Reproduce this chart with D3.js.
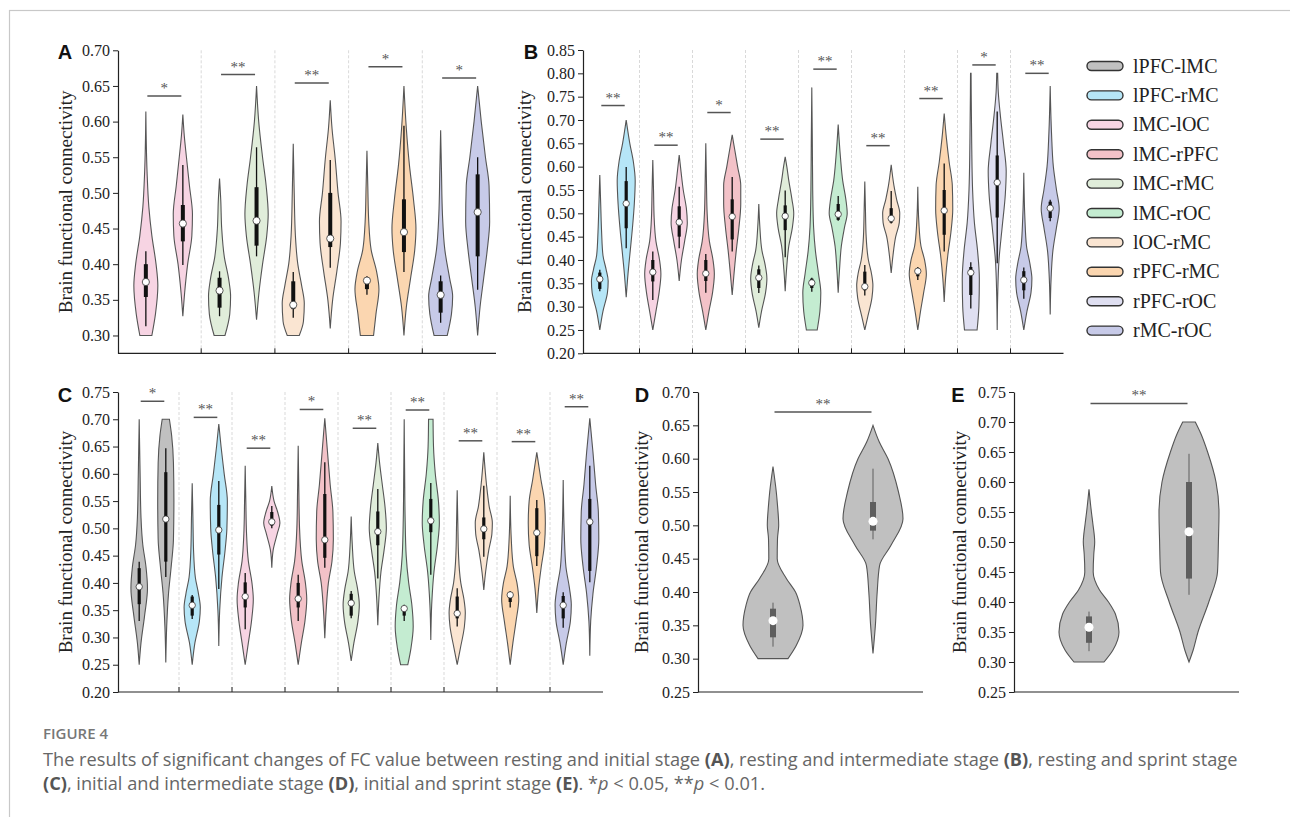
<!DOCTYPE html>
<html lang="en">
<head>
<meta charset="UTF-8">
<title>Figure 4</title>
<script src="https://cdn.jsdelivr.net/npm/d3@7"></script>
<style>
  body { margin: 0; background: #fff; }
</style>
</head>
<body>
<svg id="main" width="1290" height="817"></svg>
<script>
// ---------- data ----------
const connNames = ['lPFC-lMC','lPFC-rMC','lMC-lOC','lMC-rPFC','lMC-rMC',
                   'lMC-rOC','lOC-rMC','rPFC-rMC','rPFC-rOC','rMC-rOC'];
const connColors = ['#c0c0c0','#b6e6f7','#f7d4e3','#f3c2c8','#e0edda',
                    '#c4ecd1','#fae5d2','#fbd6b0','#dfdff1','#c7cae8'];

// stats per violin: [whisker low, q1, median, q3, whisker high], [rest, stage]
// shapes: [value, relative density]
const aGroups = ['lMC-lOC','lMC-rMC','lOC-rMC','rPFC-rMC','rMC-rOC'];
const aTicks = [0.30,0.35,0.40,0.45,0.50,0.55,0.60,0.65,0.70];
const aStats = [
  [[0.313,0.354,0.375,0.400,0.418],[0.399,0.432,0.457,0.483,0.539]],
  [[0.327,0.339,0.363,0.381,0.390],[0.411,0.426,0.461,0.508,0.564]],
  [[0.325,0.337,0.343,0.376,0.389],[0.395,0.424,0.436,0.500,0.546]],
  [[0.357,0.365,0.377,0.380,0.383],[0.389,0.417,0.445,0.491,0.594]],
  [[0.318,0.332,0.357,0.376,0.384],[0.364,0.411,0.473,0.526,0.550]]
];
const aShapes = [
  [[[0.30,0.5],[0.33,0.8],[0.37,1.0],[0.40,0.85],[0.44,0.5],[0.48,0.25],[0.53,0.1],[0.614,0]],
   [[0.327,0],[0.36,0.15],[0.40,0.4],[0.44,0.75],[0.47,0.8],[0.51,0.55],[0.55,0.3],[0.58,0.12],[0.61,0]]],
  [[[0.30,0.45],[0.33,0.85],[0.355,0.92],[0.38,0.75],[0.41,0.4],[0.45,0.18],[0.49,0.1],[0.52,0]],
   [[0.322,0],[0.36,0.2],[0.40,0.5],[0.44,0.85],[0.47,0.97],[0.51,0.8],[0.55,0.5],[0.60,0.18],[0.65,0]]],
  [[[0.30,0.5],[0.32,0.85],[0.345,0.92],[0.37,0.7],[0.40,0.38],[0.44,0.18],[0.50,0.08],[0.569,0]],
   [[0.31,0],[0.35,0.2],[0.39,0.55],[0.43,0.85],[0.46,0.9],[0.50,0.65],[0.55,0.4],[0.59,0.15],[0.63,0]]],
  [[[0.30,0.55],[0.33,0.75],[0.365,1.0],[0.39,0.8],[0.42,0.35],[0.46,0.15],[0.51,0.07],[0.559,0]],
   [[0.30,0],[0.34,0.2],[0.38,0.55],[0.42,0.9],[0.45,1.0],[0.49,0.8],[0.54,0.45],[0.59,0.2],[0.65,0]]],
  [[[0.30,0.55],[0.33,0.9],[0.355,1.0],[0.38,0.75],[0.42,0.35],[0.47,0.15],[0.53,0.07],[0.588,0]],
   [[0.30,0],[0.34,0.2],[0.38,0.5],[0.42,0.8],[0.46,1.0],[0.51,0.95],[0.55,0.65],[0.60,0.3],[0.65,0]]]
];
const aSig = [['*',0.636],['**',0.666],['**',0.654],['*',0.677],['*',0.661]];

const bGroups = ['lPFC-rMC','lMC-lOC','lMC-rPFC','lMC-rMC','lMC-rOC',
                 'lOC-rMC','rPFC-rMC','rPFC-rOC','rMC-rOC'];
const bTicks = [0.20,0.25,0.30,0.35,0.40,0.45,0.50,0.55,0.60,0.65,0.70,0.75,0.80,0.85];
const bStats = [
  [[0.333,0.338,0.359,0.373,0.379],[0.425,0.468,0.521,0.569,0.599]],
  [[0.314,0.354,0.374,0.400,0.418],[0.425,0.450,0.481,0.515,0.557]],
  [[0.330,0.355,0.371,0.400,0.413],[0.418,0.444,0.493,0.530,0.578]],
  [[0.329,0.340,0.362,0.380,0.388],[0.406,0.464,0.494,0.517,0.549]],
  [[0.332,0.340,0.351,0.360,0.362],[0.484,0.486,0.498,0.520,0.537]],
  [[0.324,0.335,0.343,0.375,0.389],[0.478,0.480,0.489,0.511,0.548]],
  [[0.357,0.365,0.376,0.380,0.385],[0.418,0.454,0.506,0.550,0.607]],
  [[0.296,0.325,0.373,0.385,0.395],[0.393,0.491,0.566,0.624,0.718]],
  [[0.317,0.335,0.357,0.376,0.384],[0.483,0.490,0.511,0.525,0.529]]
];
const bShapes = [
  [[[0.25,0],[0.29,0.35],[0.33,0.85],[0.355,0.93],[0.38,0.7],[0.41,0.35],[0.46,0.2],[0.52,0.1],[0.582,0]],
   [[0.32,0],[0.37,0.2],[0.42,0.45],[0.47,0.7],[0.52,0.9],[0.57,1.0],[0.61,0.8],[0.65,0.4],[0.70,0]]],
  [[[0.25,0],[0.29,0.35],[0.33,0.7],[0.37,0.9],[0.40,0.75],[0.44,0.35],[0.49,0.15],[0.55,0.08],[0.614,0]],
   [[0.355,0],[0.40,0.25],[0.44,0.6],[0.48,0.9],[0.51,0.8],[0.55,0.45],[0.59,0.2],[0.625,0]]],
  [[[0.25,0],[0.29,0.35],[0.33,0.75],[0.37,0.95],[0.40,0.8],[0.44,0.4],[0.50,0.15],[0.57,0.07],[0.65,0]],
   [[0.325,0],[0.37,0.2],[0.42,0.45],[0.47,0.75],[0.52,0.95],[0.56,0.95],[0.60,0.6],[0.64,0.25],[0.668,0]]],
  [[[0.255,0],[0.29,0.3],[0.33,0.75],[0.36,0.9],[0.39,0.7],[0.42,0.35],[0.47,0.12],[0.52,0]],
   [[0.333,0],[0.38,0.15],[0.43,0.4],[0.47,0.8],[0.50,0.95],[0.53,0.75],[0.57,0.4],[0.60,0.18],[0.621,0]]],
  [[[0.25,0.6],[0.29,0.9],[0.33,1.0],[0.37,0.75],[0.42,0.4],[0.47,0.2],[0.55,0.1],[0.65,0.06],[0.769,0]],
   [[0.33,0],[0.38,0.15],[0.43,0.35],[0.47,0.7],[0.50,1.0],[0.53,0.85],[0.57,0.5],[0.62,0.25],[0.69,0]]],
  [[[0.25,0],[0.28,0.35],[0.32,0.8],[0.345,0.9],[0.37,0.75],[0.40,0.4],[0.45,0.15],[0.51,0.07],[0.568,0]],
   [[0.372,0],[0.41,0.2],[0.45,0.5],[0.48,0.9],[0.50,0.95],[0.53,0.6],[0.56,0.3],[0.604,0]]],
  [[[0.25,0],[0.29,0.3],[0.33,0.65],[0.37,0.95],[0.40,0.75],[0.43,0.35],[0.48,0.12],[0.557,0]],
   [[0.31,0],[0.36,0.15],[0.41,0.4],[0.46,0.75],[0.51,0.95],[0.56,0.9],[0.61,0.55],[0.66,0.25],[0.714,0]]],
  [[[0.25,0.7],[0.30,0.9],[0.36,0.95],[0.42,0.75],[0.48,0.4],[0.55,0.2],[0.65,0.1],[0.80,0.03]],
   [[0.25,0],[0.32,0.05],[0.40,0.2],[0.47,0.55],[0.54,0.9],[0.59,1.0],[0.65,0.7],[0.71,0.35],[0.76,0.12],[0.80,0.05]]],
  [[[0.25,0],[0.29,0.35],[0.33,0.8],[0.36,0.9],[0.39,0.7],[0.43,0.3],[0.49,0.12],[0.587,0]],
   [[0.283,0],[0.36,0.1],[0.42,0.3],[0.47,0.7],[0.51,1.0],[0.55,0.7],[0.60,0.35],[0.67,0.15],[0.773,0]]]
];
const bSig = [['**',0.731],['**',0.646],['*',0.716],['**',0.659],['**',0.809],
              ['**',0.645],['**',0.746],['*',0.818],['**',0.800]];

const cGroups = ['lPFC-lMC','lPFC-rMC','lMC-lOC','lMC-rPFC','lMC-rMC',
                 'lMC-rOC','lOC-rMC','rPFC-rMC','rMC-rOC'];
const cTicks = [0.20,0.25,0.30,0.35,0.40,0.45,0.50,0.55,0.60,0.65,0.70,0.75];
const cStats = [
  [[0.330,0.361,0.393,0.427,0.439],[0.411,0.439,0.517,0.603,0.647]],
  [[0.334,0.340,0.359,0.375,0.378],[0.389,0.452,0.497,0.543,0.587]],
  [[0.315,0.355,0.375,0.401,0.418],[0.500,0.505,0.512,0.530,0.541]],
  [[0.330,0.355,0.371,0.400,0.415],[0.428,0.446,0.479,0.563,0.621]],
  [[0.335,0.340,0.363,0.380,0.385],[0.408,0.469,0.494,0.531,0.572]],
  [[0.330,0.340,0.353,0.355,0.360],[0.415,0.493,0.514,0.554,0.583]],
  [[0.320,0.335,0.344,0.375,0.390],[0.448,0.480,0.499,0.520,0.578]],
  [[0.355,0.365,0.378,0.380,0.385],[0.431,0.449,0.492,0.537,0.552]],
  [[0.318,0.335,0.359,0.376,0.383],[0.401,0.422,0.512,0.554,0.615]]
];
const cShapes = [
  [[[0.25,0],[0.29,0.2],[0.34,0.6],[0.39,0.92],[0.43,0.75],[0.47,0.4],[0.52,0.2],[0.60,0.1],[0.70,0]],
   [[0.254,0],[0.32,0.1],[0.38,0.3],[0.43,0.6],[0.48,0.85],[0.55,0.9],[0.62,0.85],[0.67,0.65],[0.70,0.4]]],
  [[[0.25,0],[0.29,0.3],[0.33,0.8],[0.355,0.9],[0.38,0.7],[0.41,0.35],[0.46,0.15],[0.52,0.08],[0.5825,0]],
   [[0.2845,0],[0.35,0.1],[0.41,0.35],[0.46,0.7],[0.50,0.9],[0.55,0.95],[0.60,0.6],[0.65,0.25],[0.6914,0]]],
  [[[0.25,0],[0.29,0.35],[0.33,0.7],[0.37,0.9],[0.40,0.75],[0.44,0.35],[0.49,0.15],[0.55,0.07],[0.615,0]],
   [[0.4277,0],[0.46,0.15],[0.49,0.6],[0.51,0.9],[0.53,0.65],[0.55,0.25],[0.5777,0]]],
  [[[0.25,0],[0.29,0.35],[0.33,0.75],[0.37,0.95],[0.40,0.8],[0.44,0.4],[0.50,0.15],[0.57,0.07],[0.6515,0]],
   [[0.2984,0],[0.35,0.15],[0.40,0.4],[0.44,0.8],[0.48,0.95],[0.53,0.9],[0.58,0.6],[0.64,0.3],[0.7016,0]]],
  [[[0.257,0],[0.29,0.3],[0.33,0.75],[0.36,0.9],[0.39,0.7],[0.42,0.35],[0.47,0.12],[0.5215,0]],
   [[0.3225,0],[0.37,0.12],[0.42,0.35],[0.46,0.7],[0.50,0.95],[0.54,0.8],[0.58,0.5],[0.62,0.2],[0.6563,0]]],
  [[[0.25,0.4],[0.28,0.75],[0.32,1.0],[0.36,0.85],[0.40,0.5],[0.45,0.22],[0.52,0.1],[0.60,0.05],[0.70,0]],
   [[0.2953,0],[0.36,0.1],[0.42,0.35],[0.47,0.75],[0.51,0.95],[0.55,0.85],[0.60,0.5],[0.65,0.3],[0.70,0.25]]],
  [[[0.25,0],[0.28,0.35],[0.32,0.8],[0.345,0.9],[0.37,0.75],[0.40,0.4],[0.45,0.15],[0.51,0.07],[0.5698,0]],
   [[0.3872,0],[0.42,0.2],[0.46,0.55],[0.49,0.9],[0.51,0.95],[0.54,0.6],[0.58,0.3],[0.6394,0]]],
  [[[0.25,0],[0.29,0.3],[0.33,0.65],[0.37,0.95],[0.40,0.75],[0.43,0.35],[0.48,0.12],[0.5596,0]],
   [[0.3449,0],[0.39,0.2],[0.43,0.5],[0.47,0.85],[0.51,0.95],[0.55,0.85],[0.59,0.45],[0.6394,0]]],
  [[[0.25,0],[0.29,0.35],[0.33,0.8],[0.36,0.9],[0.39,0.7],[0.43,0.3],[0.49,0.12],[0.5886,0]],
   [[0.2663,0],[0.33,0.1],[0.38,0.35],[0.43,0.75],[0.48,1.0],[0.53,0.95],[0.58,0.65],[0.64,0.35],[0.7016,0]]]
];
const cSig = [['*',0.733],['**',0.7035],['**',0.647],['*',0.718],['**',0.6835],
              ['**',0.717],['**',0.6605],['**',0.659],['**',0.723]];

const dGroups = ['initial-intermediate'];
const dTicks = [0.25,0.30,0.35,0.40,0.45,0.50,0.55,0.60,0.65,0.70];
const dStats = [[[0.318,0.332,0.357,0.375,0.384],[0.479,0.492,0.506,0.535,0.585]]];
const dShapes = [[
  [[0.30,0.5],[0.32,0.78],[0.35,1.0],[0.38,0.9],[0.40,0.75],[0.42,0.45],[0.45,0.14],[0.48,0.15],[0.50,0.19],[0.53,0.15],[0.55,0.11],[0.588,0]],
  [[0.308,0],[0.35,0.08],[0.40,0.14],[0.44,0.22],[0.47,0.6],[0.51,1.0],[0.55,0.85],[0.60,0.5],[0.625,0.21],[0.65,0]]
]];
const dSig = [['**',0.670]];

const eGroups = ['initial-sprint'];
const eTicks = [0.25,0.30,0.35,0.40,0.45,0.50,0.55,0.60,0.65,0.70,0.75];
const eStats = [[[0.318,0.332,0.358,0.376,0.384],[0.412,0.439,0.517,0.600,0.647]]];
const eShapes = [[
  [[0.30,0.5],[0.32,0.8],[0.35,1.0],[0.38,0.88],[0.40,0.65],[0.42,0.35],[0.45,0.14],[0.48,0.16],[0.50,0.19],[0.53,0.13],[0.55,0.08],[0.5878,0]],
  [[0.30,0],[0.32,0.14],[0.35,0.3],[0.40,0.66],[0.45,0.95],[0.50,0.98],[0.55,1.0],[0.60,0.9],[0.65,0.62],[0.68,0.4],[0.70,0.21]]
]];
const eSig = [['**',0.731]];

// ---------- drawing ----------
const SERIF = '"Liberation Serif", "Times New Roman", serif';
const svg = d3.select('svg#main');
const colorOf = d3.scaleOrdinal().domain(connNames).range(connColors);

// outer frame
svg.append('rect').attr('x', 9.5).attr('y', 10.5).attr('width', 1300).attr('height', 900)
  .attr('fill', 'none').attr('stroke', '#c8c8c8').attr('stroke-width', 1.2);

function drawPanel(p) {
  const g = svg.append('g').attr('font-family', SERIF);
  const y = d3.scaleLinear().domain(p.domain).range(p.yRange);
  const x = d3.scaleBand().domain(p.groups).range(p.band);
  const w = d3.scaleLinear().domain([0, 1]).range([0, p.maxHalf]);
  const yBot = p.yRange[0], yTop = p.yRange[1];

  // dashed separators + x ticks
  const bounds = p.groups.slice(1).map(gr => x(gr));
  g.selectAll('.sep').data(bounds).enter().append('line')
    .attr('x1', d => d).attr('x2', d => d).attr('y1', yTop).attr('y2', yBot)
    .attr('stroke', '#cfcfcf').attr('stroke-width', 0.8).attr('stroke-dasharray', '3,2');
  g.selectAll('.xt').data(bounds).enter().append('line')
    .attr('x1', d => d).attr('x2', d => d).attr('y1', yBot - 5).attr('y2', yBot)
    .attr('stroke', '#222').attr('stroke-width', 1);

  // violins
  const area = d3.area()
    .y(d => y(d[0]))
    .curve(d3.curveMonotoneY);
  p.groups.forEach((gr, gi) => {
    const cx0 = x(gr) + x.bandwidth() / 2;
    const fill = p.gray ? '#c0c0c0' : colorOf(gr);
    [0, 1].forEach(k => {
      const cx = cx0 + (k === 0 ? -p.offset : p.offset);
      const shape = p.shapes[gi][k];
      const st = p.stats[gi][k];
      g.append('path').datum(shape)
        .attr('d', area.x0(d => cx - w(d[1])).x1(d => cx + w(d[1])))
        .attr('fill', fill).attr('stroke', '#555').attr('stroke-width', 1.1);
      const boxCol = p.gray ? '#5e5e5e' : '#111';
      g.append('line').attr('x1', cx).attr('x2', cx)
        .attr('y1', y(st[0])).attr('y2', y(st[4]))
        .attr('stroke', boxCol).attr('stroke-width', p.gray ? 1 : 1.3);
      g.append('line').attr('x1', cx).attr('x2', cx)
        .attr('y1', y(st[1])).attr('y2', y(st[3]))
        .attr('stroke', boxCol).attr('stroke-width', p.boxW);
      g.append('circle').attr('cx', cx).attr('cy', y(st[2])).attr('r', p.medR)
        .attr('fill', '#fff').attr('stroke', p.gray ? 'none' : '#333').attr('stroke-width', 0.8);
    });
    // significance
    const s = p.sig[gi];
    g.append('line').attr('x1', cx0 - p.offset + 1.5).attr('x2', cx0 + p.offset - 1.5)
      .attr('y1', y(s[1])).attr('y2', y(s[1]))
      .attr('stroke', '#555').attr('stroke-width', 1.5);
    g.append('text').attr('x', cx0).attr('y', y(s[1]) - 3)
      .attr('text-anchor', 'middle').attr('font-size', 15).attr('fill', '#555')
      .text(s[0]);
  });

  // axes
  const ya = g.append('g').attr('transform', `translate(${p.axisX},0)`)
    .call(d3.axisLeft(y).tickValues(p.ticks).tickFormat(d3.format('.2f'))
      .tickSize(5).tickSizeOuter(0).tickPadding(3))
    .attr('font-family', SERIF).attr('font-size', 16);
  ya.select('.domain').attr('stroke', '#222').attr('stroke-width', 1.2);
  ya.selectAll('.tick line').attr('stroke', '#222');
  ya.selectAll('text').attr('fill', '#222');
  g.append('line').attr('x1', p.axisX).attr('x2', p.xEnd).attr('y1', yBot).attr('y2', yBot)
    .attr('stroke', '#222').attr('stroke-width', 1.2);

  // title & letter
  g.append('text')
    .attr('transform', `translate(${p.titleX},${(yTop + yBot) / 2}) rotate(-90)`)
    .attr('text-anchor', 'middle').attr('dominant-baseline', 'middle')
    .attr('font-size', 19).attr('fill', '#222').text('Brain functional connectivity');
  g.append('text').attr('x', p.letter[0]).attr('y', p.letter[1])
    .attr('text-anchor', 'middle').attr('dominant-baseline', 'central')
    .attr('font-family', '"Liberation Sans", Arial, sans-serif').attr('font-weight', 'bold')
    .attr('font-size', 20).attr('fill', '#111').text(p.name);
}

drawPanel({name: 'A', groups: aGroups, stats: aStats, shapes: aShapes, sig: aSig, ticks: aTicks,
  domain: [0.275, 0.70], yRange: [353.3, 50.3], band: [127.5, 496], axisX: 118, xEnd: 496,
  offset: 18.5, maxHalf: 12, boxW: 4, medR: 3.6, letter: [65, 52], titleX: 68});
drawPanel({name: 'B', groups: bGroups, stats: bStats, shapes: bShapes, sig: bSig, ticks: bTicks,
  domain: [0.20, 0.85], yRange: [353.3, 50], band: [586.5, 1063.5], axisX: 583, xEnd: 1063.5,
  offset: 13.2, maxHalf: 9, boxW: 3.2, medR: 3.2, letter: [531, 52], titleX: 527});
drawPanel({name: 'C', groups: cGroups, stats: cStats, shapes: cShapes, sig: cSig, ticks: cTicks,
  domain: [0.20, 0.75], yRange: [692, 392], band: [126, 603], axisX: 118, xEnd: 603,
  offset: 13.3, maxHalf: 9, boxW: 3.2, medR: 3.2, letter: [65, 395], titleX: 68});
drawPanel({name: 'D', groups: dGroups, stats: dStats, shapes: dShapes, sig: dSig, ticks: dTicks,
  domain: [0.25, 0.70], yRange: [692, 392], band: [723, 923], axisX: 698, xEnd: 923,
  offset: 50, maxHalf: 30, boxW: 6, medR: 4.5, letter: [642, 395], titleX: 644, gray: true});
drawPanel({name: 'E', groups: eGroups, stats: eStats, shapes: eShapes, sig: eSig, ticks: eTicks,
  domain: [0.25, 0.75], yRange: [692, 392], band: [1039, 1239], axisX: 1014, xEnd: 1239,
  offset: 50, maxHalf: 30, boxW: 6, medR: 4.5, letter: [958, 395], titleX: 962, gray: true});

// legend
const leg = svg.append('g').attr('font-family', SERIF);
const ly = d3.scalePoint().domain(connNames).range([66, 330.6]);
connNames.forEach(n => {
  leg.append('rect').attr('x', 1087).attr('y', ly(n) - 4.5).attr('width', 36).attr('height', 9)
    .attr('rx', 4.5).attr('fill', colorOf(n)).attr('stroke', '#333').attr('stroke-width', 1.4);
  leg.append('text').attr('x', 1133).attr('y', ly(n) + 6.5)
    .attr('font-size', 20).attr('fill', '#222').text(n);
});

// caption
const cap = svg.append('g').attr('font-family', '"Open Sans", "Noto Sans", sans-serif');
cap.append('text').attr('x', 43).attr('y', 739).attr('font-size', 15).attr('font-weight', 600)
  .attr('fill', '#777').text('FIGURE 4');
const line1 = cap.append('text').attr('x', 43).attr('y', 766).attr('font-size', 18.2).attr('fill', '#666');
const line2 = cap.append('text').attr('x', 43).attr('y', 790).attr('font-size', 18.2).attr('fill', '#666');
function seg(t, s, style) {
  const ts = t.append('tspan').text(s);
  if (style === 'b') ts.attr('font-weight', 'bold').attr('fill', '#555');
  if (style === 'i') ts.attr('font-style', 'italic');
}
seg(line1, 'The results of significant changes of FC value between resting and initial stage ');
seg(line1, '(A)', 'b'); seg(line1, ', resting and intermediate stage ');
seg(line1, '(B)', 'b'); seg(line1, ', resting and sprint stage');
seg(line2, '(C)', 'b'); seg(line2, ', initial and intermediate stage ');
seg(line2, '(D)', 'b'); seg(line2, ', initial and sprint stage ');
seg(line2, '(E)', 'b'); seg(line2, '. *'); seg(line2, 'p', 'i'); seg(line2, ' < 0.05, **');
seg(line2, 'p', 'i'); seg(line2, ' < 0.01.');
</script>
</body>
</html>
